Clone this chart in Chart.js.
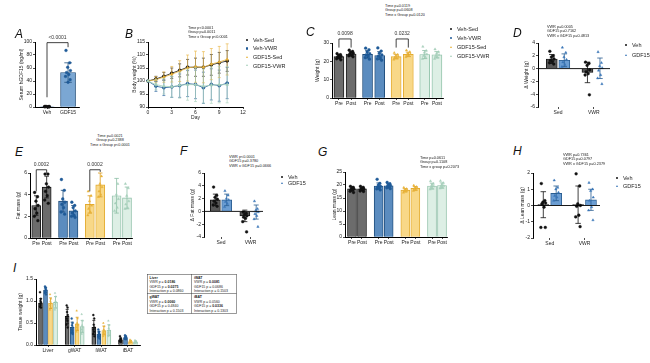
<!DOCTYPE html>
<html><head><meta charset="utf-8">
<script src="https://cdn.jsdelivr.net/npm/chart.js@4.4.1/dist/chart.umd.min.js"></script>
<style>
body{margin:0;width:650px;height:363px;background:#fff;position:relative;overflow:hidden;font-family:'Liberation Sans',Arial,Helvetica,sans-serif;}
canvas{position:absolute;}
.lbl{position:absolute;font-style:italic;font-size:12px;line-height:12px;color:#111;}
.sm{position:absolute;transform:scale(0.5);transform-origin:0 0;white-space:nowrap;color:#222;}
.mk{position:absolute;}
table.pt{border-collapse:collapse;font-size:7px;line-height:9px;color:#222;}
table.pt td{border:1.6px solid #333;padding:1px 4px;vertical-align:top;width:80px;}
</style></head><body>
<script>
// ---------------- DATA ----------------
const groups = ['Veh-Sed','Veh-VWR','GDF15-Sed','GDF15-VWR'];
const prePost = ['Pre','Post'];
const sedVwr = ['Sed','VWR'];
const treat = ['Veh','GDF15'];

// A: serum hGDF15 (ng/ml)
const aCats = ['Veh','GDF15'];
const aMeans = [0.5, 53];
const aSD = [0.3, 15];
const aPts = [[0.5,0.3,0.6,0.4,0.8,0.2,0.5,0.7],[87,68,61,56,53,50,47,42,38]];

// B: body weight (%)
const bDays = [0,1,2,3,4,5,6,7,8,9,10];
const bVehSed = [100,100.8,101.8,103.0,104.1,105.3,105.3,105.3,106.2,107.0,107.7];
const bVehVWR = [100,98.0,97.4,97.7,98.2,99.0,98.7,97.4,98.7,98.2,99.2];
const bGdfSed = [100,100.5,101.5,102.6,103.8,105.0,105.5,105.3,106.5,107.3,108.3];
const bGdfVWR = [100,98.6,98.0,97.8,98.4,98.6,98.6,98.0,98.4,98.6,98.6];
const bVehSedSD = [0,1,1.5,2,2.5,3,3.5,3.5,4,4,4];
const bVehVWRSD = [0,2,3,4,4.5,5,5.5,6,6,6,6];
const bGdfSedSD = [0,1.2,2,3,4,5,6,6,6,6,6];
const bGdfVWRSD = [0,2,3,4,5,6,6.5,6.5,7,7,7];
const bXTicks = [0,3,6,9,12];

// C: weight (g)
const cPre = [22.6,23.8,22.6,23.7];
const cPost = [24.0,23.2,23.8,23.6];
const cPreSD = [1.2,2.0,1.2,2.2];
const cPostSD = [1.2,2.1,1.2,1.7];
const cPrePts = [[24.2,23.6,23.1,22.7,22.3,21.9,21.4,20.8],[27.2,26.3,25.1,24.2,23.5,22.9,22.0,21.2],[24.6,23.6,23.0,22.5,22.1,21.6,21.0],[28.0,25.8,24.8,23.9,23.0,22.3,21.4]];
const cPostPts = [[26.1,25.4,24.9,24.4,23.9,23.4,23.0,22.5],[27.3,25.6,24.4,23.5,22.8,22.0,21.3,20.6],[26.0,25.1,24.4,23.9,23.4,22.9,22.4],[26.6,25.1,24.2,23.5,22.9,22.1,21.4]];

// D: delta weight (g)
const dVeh = [1.5,-0.6], dVehSD = [0.7,1.6];
const dGdf = [1.3,0.05], dGdfSD = [1.0,1.6];
const dVehPts = [[2.7,2.0,1.8,1.5,1.3,1.1,0.9,0.7],[1.0,0.8,0.5,-0.2,-0.5,-0.8,-1.0,-4.1]];
const dGdfPts = [[3.3,2.5,1.8,1.4,1.0,0.6,0.3],[2.6,0.9,0.4,0.1,-0.3,-1.0,-1.5,-2.4]];

// E: fat mass (g)
const ePre = [3.0,3.4,3.1,3.9], ePost = [4.7,2.5,4.9,3.7];
const ePreSD = [0.9,1.0,0.8,1.6], ePostSD = [1.0,0.5,1.1,1.0];
const ePrePts = [[4.2,3.8,3.4,3.0,2.7,2.3,2.0,1.6],[5.4,4.4,3.6,3.3,3.1,2.8,2.4,2.2],[4.3,3.9,3.4,3.0,2.7,2.4,2.1],[7.5,5.0,4.0,3.6,3.2,2.8,2.5]];
const ePostPts = [[5.9,5.9,5.0,4.7,4.3,3.9,3.5,3.2],[3.3,3.0,2.8,2.5,2.3,2.1,2.0,1.9],[7.0,5.7,5.0,4.7,4.3,4.0,3.8],[5.0,4.6,3.9,3.4,3.1,2.8,2.7]];

// F: delta fat mass (g)
const fVeh = [1.8,-0.7], fVehSD = [0.9,0.9];
const fGdf = [1.8,-0.1], fGdfSD = [0.9,1.1];
const fVehPts = [[3.8,2.5,2.2,1.9,1.6,1.3,1.0,0.8],[-0.1,-0.3,-0.5,-0.7,-0.9,-1.1,-1.6,-3.2]];
const fGdfPts = [[3.2,2.5,2.0,1.8,1.5,1.2,0.7],[1.6,0.4,0.2,-0.1,-0.4,-0.7,-1.2,-2.4]];

// G: lean mass (g)
const gPre = [18.5,19.6,18.0,19.6], gPost = [18.5,19.7,18.7,19.8];
const gPreSD = [0.8,1.2,0.6,1.1], gPostSD = [0.6,0.8,0.7,1.0];
const gPrePts = [[19.5,19.1,18.8,18.5,18.2,18.0,17.6,17.1],[22.2,20.6,20.0,19.5,19.2,18.9,18.5,18.1],[19.0,18.5,18.2,18.0,17.8,17.5,17.1],[21.5,20.5,20.0,19.5,19.0,18.6,18.3]];
const gPostPts = [[19.5,19.1,18.7,18.5,18.3,18.0,17.7,17.5],[21.0,20.5,20.1,19.8,19.5,19.2,18.9,18.6],[19.8,19.3,19.0,18.7,18.4,18.1,17.8],[21.6,20.8,20.1,19.7,19.4,19.0,18.7]];

// H: delta lean mass (g)
const hVeh = [0.05,0.05], hVehSD = [0.8,1.15];
const hGdf = [0.75,0.35], hGdfSD = [0.45,0.65];
const hVehPts = [[1.35,0.3,0.2,0.15,0.1,-0.1,-1.35,-1.35],[1.95,1.2,0.1,0.0,-0.05,-0.6,-0.7,-1.3]];
const hGdfPts = [[1.55,1.1,1.0,0.8,0.6,0.5,0.3],[1.4,1.0,0.9,0.5,0.3,-0.1,-0.3,-0.9]];

// I: tissue weight (g)
const iCats = ['Liver','gWAT','iWAT','iBAT'];
const iVehSed = [0.95,0.65,0.40,0.12], iVehSedSD = [0.10,0.16,0.16,0.04];
const iVehVWR = [1.25,0.40,0.25,0.17], iVehVWRSD = [0.06,0.12,0.06,0.03];
const iGdfSed = [0.95,0.48,0.33,0.08], iGdfSedSD = [0.12,0.15,0.10,0.02];
const iGdfVWR = [0.97,0.42,0.34,0.07], iGdfVWRSD = [0.13,0.14,0.12,0.02];
const iVehSedPts = [[1.2,1.05,1.0,0.97,0.94,0.91,0.88,0.85],[0.9,0.85,0.75,0.68,0.6,0.55,0.46,0.4],[0.68,0.6,0.46,0.4,0.35,0.3,0.25,0.2],[0.2,0.15,0.13,0.12,0.1,0.1,0.08,0.07]];
const iVehVWRPts = [[1.33,1.3,1.28,1.25,1.22,1.2,1.18,1.15],[0.6,0.5,0.45,0.4,0.35,0.32,0.28,0.25],[0.35,0.3,0.28,0.25,0.22,0.2,0.18,0.15],[0.22,0.2,0.18,0.17,0.16,0.15,0.14,0.13]];
const iGdfSedPts = [[1.15,1.05,1.0,0.95,0.9,0.85,0.8],[0.78,0.6,0.5,0.45,0.4,0.35,0.3],[0.5,0.42,0.35,0.32,0.28,0.25,0.2],[0.12,0.1,0.09,0.08,0.07,0.06,0.05]];
const iGdfVWRPts = [[1.18,1.1,1.0,0.97,0.92,0.85,0.8],[0.7,0.55,0.45,0.4,0.35,0.3,0.25],[0.55,0.45,0.38,0.33,0.28,0.22,0.2],[0.11,0.09,0.08,0.07,0.06,0.05,0.04]];

// ---------------- STYLE ----------------
const COLS = [
  {fill:'#6c6c6c',border:'#111',err:'#111',pt:'#111',style:'circle'},
  {fill:'#5b8cbf',border:'#1c4a78',err:'#1c4a78',pt:'#1f5a98',style:'circle'},
  {fill:'#f8d888',border:'#e3aa2e',err:'#d99a1c',pt:'#e8b23a',style:'triangle'},
  {fill:'#ddefe5',border:'#8dbfa6',err:'#8dbfa6',pt:'#a6d0bb',style:'triangle'}
];
const TCOLS = [
  {fill:'#585858',border:'#111',err:'#111',pt:'#111',style:'circle'},
  {fill:'#6b9dd2',border:'#2a5d90',err:'#2a5d90',pt:'#3a76b8',style:'triangle'}
];
const JIT = [-0.28,0.22,-0.05,0.32,-0.2,0.1,-0.34,0.28,0.0];

const FONT = "'Liberation Sans', Arial, Helvetica, sans-serif";
Chart.defaults.font.family = FONT;
Chart.defaults.color = '#222';

const extras = {
  id:'extras',
  afterDatasetDraw(chart,args){
    const ds = chart.data.datasets[args.index];
    if(!ds.sd) return;
    const ctx = chart.ctx, ys = chart.scales.y;
    ctx.save(); ctx.strokeStyle = ds.errColor || ds.borderColor; ctx.lineWidth = ds.errWidth || 0.8;
    args.meta.data.forEach((el,j)=>{
      const m = ds.data[j].y, s = ds.sd[j];
      if(s==null || s===0) return;
      const x = el.x, y1 = ys.getPixelForValue(m+s), y2 = ys.getPixelForValue(m-s), cw = ds.capW || 2.5;
      ctx.beginPath(); ctx.moveTo(x,y1); ctx.lineTo(x,y2);
      ctx.moveTo(x-cw,y1); ctx.lineTo(x+cw,y1); ctx.moveTo(x-cw,y2); ctx.lineTo(x+cw,y2); ctx.stroke();
    });
    ctx.restore();
  },
  afterDraw(chart){
    const o = chart.options.plugins.extras || {};
    const ctx = chart.ctx, xs = chart.scales.x, ys = chart.scales.y, ca = chart.chartArea;
    if(o.zero){
      const y = ys.getPixelForValue(0);
      ctx.save(); ctx.strokeStyle='#000'; ctx.lineWidth=0.9;
      ctx.beginPath(); ctx.moveTo(ca.left,y); ctx.lineTo(ca.right,y); ctx.stroke(); ctx.restore();
    }
    (o.brackets||[]).forEach(b=>{
      const x1 = xs.getPixelForValue(b.x1), x2 = xs.getPixelForValue(b.x2), yt = ys.getPixelForValue(b.y);
      ctx.save(); ctx.strokeStyle='#111'; ctx.lineWidth=0.8;
      ctx.beginPath(); ctx.moveTo(x1,ys.getPixelForValue(b.d1)); ctx.lineTo(x1,yt); ctx.lineTo(x2,yt); ctx.lineTo(x2,ys.getPixelForValue(b.d2)); ctx.stroke();
      ctx.fillStyle='#333'; ctx.font='5px '+FONT; ctx.textAlign='center'; ctx.textBaseline='bottom';
      ctx.fillText(b.text,(x1+x2)/2,yt-2.5);
      ctx.restore();
    });
  }
};

function panel(o){
  const padT = o.padT ?? 5, padR = o.padR ?? 5;
  const W = Math.round(o.r-o.l+o.wy+padR), H = Math.round(o.b-o.t+padT+o.hx);
  const c = document.createElement('canvas');
  c.width = W; c.height = H;
  Object.assign(c.style,{left:(o.l-o.wy)+'px',top:(o.t-padT)+'px',width:W+'px',height:H+'px'});
  document.body.appendChild(c);
  const axisGrid = {drawOnChartArea:false,color:'#000',lineWidth:0.7,tickLength:2,tickWidth:0.7};
  return new Chart(c,{
    type:o.type||'bar',
    data:{datasets:o.datasets},
    options:{
      responsive:false, animation:false,
      layout:{padding:{left:0,right:padR,top:padT,bottom:0}},
      plugins:{legend:{display:false},tooltip:{enabled:false},extras:{brackets:o.brackets||[],zero:!!o.zero}},
      scales:{
        x:{type:'linear',min:o.xmin,max:o.xmax,offset:false,
          afterFit:s=>{s.height=o.hx;},
          afterBuildTicks:s=>{s.ticks=o.xticks.map(t=>({value:t.v}));},
          ticks:{autoSkip:false,maxRotation:0,minRotation:0,padding:1,font:{size:o.xfs||5},
            callback:(v)=>{const t=o.xticks.find(q=>Math.abs(q.v-v)<1e-6);return t?t.label:'';}},
          grid:{...axisGrid,offset:false},
          border:{display:o.xborder!==false,color:'#000',width:1},
          title:o.xtitle?{display:true,text:o.xtitle,font:{size:5},padding:{top:1,bottom:0}}:{display:false}},
        y:{type:'linear',min:o.ymin,max:o.ymax,
          afterFit:s=>{s.width=o.wy;},
          ticks:{stepSize:o.ystep,padding:1,font:{size:5},callback:o.yfmt||(v=>String(v))},
          grid:axisGrid,
          border:{color:'#000',width:1},
          title:{display:true,text:o.ylabel,font:{size:5},padding:{top:0,bottom:2}}}
      }
    },
    plugins:[extras]
  });
}

function barDS(xs,means,sds,col,bt){
  return {type:'bar',data:xs.map((x,i)=>({x,y:means[i]})),sd:sds,backgroundColor:col.fill,borderColor:col.border,
    errColor:col.err,borderWidth:0.9,barThickness:bt,grouped:false,order:2,capW:Math.max(1.5,bt*0.25)};
}
function ptsDS(xs,ptsArr,col,jw,r){
  const data=[];
  xs.forEach((x,i)=>ptsArr[i].forEach((v,k)=>data.push({x:x+JIT[k%JIT.length]*jw,y:v})));
  return {type:'scatter',data,pointRadius:r||1.4,pointStyle:col.style,backgroundColor:col.pt,borderColor:col.pt,borderWidth:0.4,clip:false,order:1};
}
function pairDatasets(pre,post,preSD,postSD,prePts,postPts,gap,bt,jw){
  const ds=[];
  groups.forEach((g,gi)=>{
    const xs=[gi*gap,gi*gap+1];
    ds.push(barDS(xs,[pre[gi],post[gi]],[preSD[gi],postSD[gi]],COLS[gi],bt));
    ds.push(ptsDS(xs,[prePts[gi],postPts[gi]],COLS[gi],jw));
  });
  return ds;
}
function pairTicks(gap){
  const t=[]; groups.forEach((g,gi)=>prePost.forEach((p,k)=>t.push({v:gi*gap+k,label:p}))); return t;
}
function deltaDatasets(veh,vehSD,gdf,gdfSD,vehPts,gdfPts,gap,bt,jw){
  const xv=[0,gap], xg=[1,gap+1];
  return [barDS(xv,veh,vehSD,TCOLS[0],bt),barDS(xg,gdf,gdfSD,TCOLS[1],bt),
          ptsDS(xv,vehPts,TCOLS[0],jw),ptsDS(xg,gdfPts,TCOLS[1],jw)];
}
function deltaTicks(gap){ return sedVwr.map((s,i)=>({v:i*gap+0.5,label:s})); }

// ---------------- PANELS ----------------
// A
panel({l:35,r:79,t:42,b:107,wy:16,hx:9,padT:12,xmin:-0.57,xmax:1.52,ymin:0,ymax:100,ystep:20,
  ylabel:'Serum hGDF15 (ng/ml)',xticks:aCats.map((c,i)=>({v:i,label:c})),
  datasets:[barDS([0,1],aMeans,aSD,{fill:'#7ba7d3',border:'#24507c',err:'#24507c'},15),
            ptsDS([0],[aPts[0]],{pt:'#111',style:'circle'},0.35),
            ptsDS([1],[aPts[1]],{pt:'#1f5a98',style:'circle'},0.35)],
  brackets:[{x1:0,x2:1,y:99,d1:15,d2:92,text:'<0.0001'}]});

// B
panel({type:'line',l:148,r:243,t:42,b:107,wy:16,hx:14,xmin:0,xmax:12,ymin:90,ymax:115,ystep:5,
  ylabel:'Body weight (%)',xtitle:'Day',xticks:bXTicks.map(v=>({v,label:String(v)})),
  datasets:[[bVehSed,bVehSedSD],[bVehVWR,bVehVWRSD],[bGdfSed,bGdfSedSD],[bGdfVWR,bGdfVWRSD]].map((p,i)=>({
    type:'line',data:bDays.map((d,k)=>({x:d,y:p[0][k]})),sd:p[1],borderColor:COLS[i].pt,backgroundColor:COLS[i].pt,
    errColor:COLS[i].pt,errWidth:0.6,capW:1.5,borderWidth:0.8,pointRadius:1.4,pointStyle:COLS[i].style,order:4-i,clip:false}))});

// C
const cGap=2.35;
panel({l:332,r:443,t:43,b:98,wy:17,hx:9,padT:14,xmin:-0.57,xmax:3*cGap+1.5,ymin:0,ymax:30,ystep:10,
  ylabel:'Weight (g)',xticks:pairTicks(cGap),
  datasets:pairDatasets(cPre,cPost,cPreSD,cPostSD,cPrePts,cPostPts,cGap,10,0.55),
  brackets:[{x1:0,x2:1,y:32.2,d1:27.5,d2:27.5,text:'0.0098'},{x1:2*cGap,x2:2*cGap+1,y:32.2,d1:27.5,d2:27.5,text:'0.0232'}]});

// D
const dGap=2.85;
panel({l:538,r:610,t:43,b:107,wy:14,hx:10,xmin:-1.1,xmax:dGap+1.8,ymin:-6,ymax:4,ystep:2,xborder:false,zero:true,
  ylabel:'\u0394 Weight (g)',xticks:deltaTicks(dGap),
  datasets:deltaDatasets(dVeh,dVehSD,dGdf,dGdfSD,dVehPts,dGdfPts,dGap,11,0.55)});

// E
const eGap=2.57;
panel({l:30,r:132,t:173,b:238,wy:14,hx:9,padT:14,xmin:-0.6,xmax:3*eGap+1.48,ymin:0,ymax:6,ystep:2,
  ylabel:'Fat mass (g)',xticks:pairTicks(eGap),
  datasets:pairDatasets(ePre,ePost,ePreSD,ePostSD,ePrePts,ePostPts,eGap,9,0.55),
  brackets:[{x1:0,x2:1,y:6.3,d1:4.3,d2:6.0,text:'0.0002'},{x1:2*eGap,x2:2*eGap+1,y:6.3,d1:4.3,d2:6.1,text:'0.0002'}]});

// F
const fGap=2.6;
panel({l:204,r:263,t:173,b:237,wy:14,hx:9,xmin:-1.0,xmax:fGap+1.6,ymin:-4,ymax:6,ystep:2,xborder:false,zero:true,
  ylabel:'\u0394 Fat mass (g)',xticks:deltaTicks(fGap),
  datasets:deltaDatasets(fVeh,fVehSD,fGdf,fGdfSD,fVehPts,fGdfPts,fGap,10,0.55)});

// G
const gGap=2.67;
panel({l:345,r:447,t:172,b:237,wy:13,hx:9,xmin:-0.7,xmax:3*gGap+1.5,ymin:0,ymax:25,ystep:5,
  ylabel:'Lean mass (g)',xticks:pairTicks(gGap),
  datasets:pairDatasets(gPre,gPost,gPreSD,gPostSD,gPrePts,gPostPts,gGap,9,0.55)});

// H
const hGap=2.7;
panel({l:533,r:600,t:173,b:238,wy:13,hx:9,xmin:-0.8,xmax:hGap+1.7,ymin:-2,ymax:2,ystep:1,xborder:false,zero:true,
  ylabel:'\u0394 Lean mass (g)',xticks:deltaTicks(hGap),
  datasets:deltaDatasets(hVeh,hVehSD,hGdf,hGdfSD,hVehPts,hGdfPts,hGap,11,0.55)});

// I
const iGap=5.33;
const iSeries=[[iVehSed,iVehSedSD,iVehSedPts],[iVehVWR,iVehVWRSD,iVehVWRPts],[iGdfSed,iGdfSedSD,iGdfSedPts],[iGdfVWR,iGdfVWRSD,iGdfVWRPts]];
const iDS=[];
iSeries.forEach((s,si)=>{
  const xs=iCats.map((c,ci)=>ci*iGap+si-1.5);
  iDS.push(barDS(xs,s[0],s[1],COLS[si],4));
  iDS.push(ptsDS(xs,s[2],COLS[si],0.35,1.0));
});
panel({l:36,r:140,t:279,b:345,wy:18,hx:10,xmin:-2.4,xmax:3*iGap+2.4,ymin:0,ymax:1.5,ystep:0.5,
  ylabel:'Tissue weight (g)',yfmt:v=>v.toFixed(1),xticks:iCats.map((c,i)=>({v:i*iGap,label:c})),datasets:iDS});

// ---------------- TEXT ----------------
function el(tag,cls,css,html){const d=document.createElement(tag);d.className=cls;Object.assign(d.style,css);d.innerHTML=html;document.body.appendChild(d);return d;}
[['A',15,28],['B',125,28],['C',306,26],['D',513,27],['E',15,146],['F',180,145],['G',318,146],['H',513,145],['I',13,262]]
  .forEach(([t,x,y])=>el('div','lbl',{left:x+'px',top:y+'px'},t));

function ann(x,y,lines,center){
  const d=el('div','sm',{left:(center?x-60:x)+'px',top:y+'px',fontSize:'7.6px',lineHeight:'9px',width:center?'240px':'auto',textAlign:center?'center':'left'},lines.join('<br>'));
  return d;
}
ann(188,25,['Time p<0.0001','Group p=0.0011','Time x Group p<0.0001']);
ann(385,3,['Time p=0.0119','Group p=0.0608','Time x Group p=0.0120']);
ann(547,24,['VWR p=0.0005','GDF15 p=0.7162','VWR x GDF15 p=0.4813']);
ann(110,133,['Time p=0.0021','Group p=0.2388','Time x Group p<0.0001'],true);
ann(229,154,['VWR p<0.0001','GDF15 p=0.3780','VWR x GDF15 p=0.0666']);
ann(420,155,['Time p=0.0611','Group p=0.1108','Time x group p=0.2073']);
ann(563,152,['VWR p=0.7361','GDF15 p=0.0797','VWR x GDF15 p=0.2379']);

function marker(x,y,col,shape,s){
  const d=document.createElement('div'); d.className='mk';
  if(shape==='triangle'){
    Object.assign(d.style,{left:(x-s/2)+'px',top:(y-s/2)+'px',width:0,height:0,borderLeft:(s/2)+'px solid transparent',borderRight:(s/2)+'px solid transparent',borderBottom:s+'px solid '+col});
  } else {
    Object.assign(d.style,{left:(x-s/2)+'px',top:(y-s/2)+'px',width:s+'px',height:s+'px',borderRadius:'50%',background:col});
  }
  document.body.appendChild(d);
}
function legend(x,y,dy,labels,cols){
  labels.forEach((t,i)=>{
    marker(x,y+i*dy,cols[i].pt,cols[i].style,2.8);
    el('div','sm',{left:(x+6)+'px',top:(y+i*dy-3.2)+'px',fontSize:'11px',lineHeight:'13px'},t);
  });
}
legend(247,40,8.6,groups,COLS);
legend(451,29,9,groups,COLS);
legend(626,45,10,treat,TCOLS);
legend(282,177,6.5,treat,TCOLS);
legend(617,178,8,treat,TCOLS);

// table in I
const tbl=[[['Liver',['VWR p = <b>0.0186</b>','GDF15 p = <b>0.0275</b>','Interaction p = 0.0860']],['iWAT',['VWR p = <b>0.0081</b>','GDF15 p = 0.0686','Interaction p = 0.1503']]],
           [['gWAT',['VWR p = <b>0.0060</b>','GDF15 p = 0.4840','Interaction p = 0.1503']],['iBAT',['VWR p = 0.0560','GDF15 p = <b>0.0336</b>','Interaction p = 0.1303']]]];
let h='<table class="pt">';
tbl.forEach(row=>{h+='<tr>';row.forEach(c=>{h+='<td><b>'+c[0]+'</b><br>'+c[1].join('<br>')+'</td>';});h+='</tr>';});
h+='</table>';
el('div','sm',{left:'147px',top:'274px'},h);
</script>
</body></html>
